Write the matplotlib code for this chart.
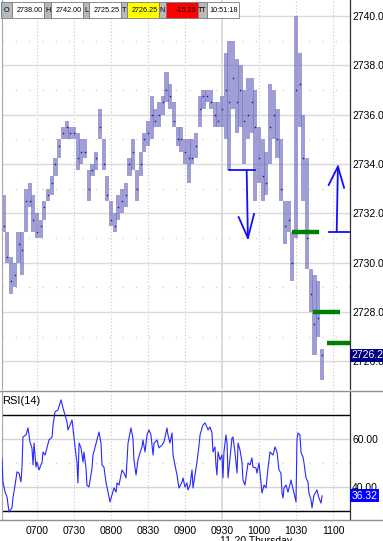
import matplotlib
matplotlib.use('Agg')
import matplotlib.pyplot as plt
import matplotlib.transforms as mtransforms
from matplotlib import font_manager
from matplotlib.patches import Rectangle

# ---------------------------------------------------------------
#   D A T A
# ---------------------------------------------------------------
# 3-minute bars, first bar at 06:33 (minutes counted from 07:00)
bar_first = -27
bar_step = 3
bar_high = [2732.75, 2731.25, 2730.25, 2730.0, 2731.25, 2731.25, 2733.0, 2733.25, 2732.75, 2732.0,
            2731.75, 2732.5, 2733.0, 2733.5, 2734.25, 2735.0, 2735.5, 2735.75, 2735.5, 2735.5,
            2735.25, 2735.0, 2735.0, 2733.75, 2734.0, 2734.5, 2736.25, 2735.0, 2733.5, 2732.5,
            2732.0, 2732.75, 2733.0, 2733.25, 2734.25, 2735.0, 2733.75, 2734.5, 2735.25, 2735.75,
            2736.75, 2736.25, 2736.5, 2736.75, 2737.75, 2737.25, 2736.5, 2735.5, 2735.5, 2735.0,
            2735.0, 2735.0, 2735.25, 2736.75, 2737.0, 2737.0, 2737.0, 2736.5, 2736.5, 2736.75,
            2738.5, 2739.0, 2739.0, 2738.25, 2738.0, 2737.0, 2737.5, 2737.5, 2737.0, 2735.5,
            2735.0, 2734.5, 2737.25, 2737.0, 2736.25, 2735.0, 2732.5, 2732.5, 2731.25, 2740.0,
            2738.5, 2736.0, 2734.25, 2729.75, 2729.5, 2729.25, 2726.5]
bar_low = [2731.25, 2730.0, 2728.75, 2729.0, 2730.0, 2729.5, 2731.25, 2732.25, 2731.25, 2731.0,
           2731.0, 2731.75, 2732.5, 2732.75, 2733.5, 2734.25, 2735.0, 2735.0, 2735.0, 2735.0,
           2733.75, 2734.0, 2734.25, 2732.5, 2733.5, 2733.75, 2735.0, 2733.75, 2732.5, 2731.5,
           2731.25, 2731.75, 2732.0, 2732.25, 2733.5, 2733.75, 2732.5, 2733.5, 2734.5, 2734.75,
           2735.0, 2735.5, 2735.5, 2736.0, 2736.5, 2736.25, 2735.5, 2734.75, 2734.5, 2734.0,
           2733.25, 2734.0, 2734.25, 2735.5, 2736.25, 2736.5, 2736.25, 2735.5, 2735.5, 2735.5,
           2735.0, 2733.75, 2736.25, 2735.25, 2735.5, 2734.0, 2735.0, 2735.25, 2732.5, 2733.25,
           2732.5, 2732.75, 2734.0, 2735.0, 2734.25, 2732.5, 2730.75, 2731.25, 2729.25, 2731.0,
           2735.5, 2732.5, 2729.75, 2728.0, 2726.25, 2727.0, 2725.25]
bar_close = [2731.5, 2730.25, 2729.25, 2729.5, 2730.75, 2730.5, 2732.5, 2732.5, 2731.75, 2731.25,
             2731.5, 2732.25, 2732.75, 2733.25, 2734.0, 2734.75, 2735.25, 2735.5, 2735.25, 2735.25,
             2734.25, 2734.5, 2734.5, 2733.0, 2733.75, 2734.25, 2735.5, 2734.0, 2732.75, 2731.75,
             2731.5, 2732.25, 2732.5, 2732.75, 2734.0, 2734.5, 2733.0, 2734.0, 2735.0, 2735.25,
             2736.0, 2735.75, 2736.0, 2736.5, 2737.0, 2736.75, 2735.75, 2735.0, 2735.0, 2734.5,
             2734.25, 2734.25, 2734.75, 2736.25, 2736.75, 2736.75, 2736.5, 2736.0, 2735.75, 2736.25,
             2737.0, 2736.5, 2737.5, 2736.5, 2737.0, 2735.75, 2736.0, 2736.5, 2735.5, 2734.25,
             2733.5, 2733.25, 2735.5, 2736.0, 2735.0, 2733.0, 2731.5, 2731.75, 2730.0, 2737.0,
             2737.25, 2734.25, 2731.0, 2728.75, 2727.5, 2727.75, 2726.25]

# RSI(14) trace: minutes from 07:00 and value
rsi_min = [-28.4, -27.6, -25.9, -24.3, -22.7, -20.3, -19.5, -17.8, -16.2, -14.6, -13.0, -12.2, -11.4,
           -8.9, -7.3, -5.7, -4.1, -3.2, -2.4, -0.8, 0.0, 1.6, 4.1, 4.9, 6.5, 8.1, 9.7, 12.2, 13.0,
           14.6, 17.0, 19.5, 21.1, 22.7, 24.3, 25.1, 26.8, 28.4, 30.0, 31.6, 32.4, 33.2, 34.1, 35.7,
           37.3, 38.1, 39.7, 40.5, 42.2, 44.6, 45.4, 48.6, 50.3, 51.9, 52.7, 54.3, 55.9, 57.6, 59.2,
           60.8, 62.4, 64.1, 64.9, 66.5, 68.9, 70.5, 72.2, 73.8, 76.2, 77.8, 78.6, 80.3, 81.9, 83.5,
           85.1, 85.9, 87.6, 89.2, 90.8, 92.4, 94.1, 94.9, 97.3, 98.9, 101.4, 103.0, 105.4, 106.2,
           107.8, 109.5, 110.3, 111.9, 113.5, 115.1, 117.6, 118.4, 120.0, 121.6, 122.4, 124.1, 125.7,
           126.5, 128.1, 129.7, 131.4, 132.2, 133.8, 134.6, 136.2, 137.8, 138.7, 140.3, 141.9, 142.7,
           144.3, 145.1, 145.9, 146.8, 148.4, 150.0, 150.8, 151.6, 153.2, 154.1, 154.9, 156.5, 158.1,
           158.9, 160.5, 162.2, 163.0, 164.6, 166.2, 167.0, 168.6, 170.3, 171.1, 172.7, 174.3, 175.1,
           177.6, 178.4, 180.0, 181.6, 182.4, 184.1, 185.7, 187.3, 188.9, 191.4, 193.0, 194.6, 196.2,
           197.8, 198.7, 199.5, 200.3, 201.9, 203.5, 206.0, 206.8, 208.4, 210.0, 210.8, 211.6, 213.2,
           214.1, 215.7, 216.5, 218.1, 219.7, 220.5, 222.2, 223.0, 224.6, 226.2, 227.0, 228.6, 230.3,
           231.1]
rsi_val = [52.1, 42.1, 37.9, 35.8, 29.6, 31.3, 35.4, 40.8, 46.3, 45.8, 42.1, 47.9, 60.8,
           61.7, 64.6, 58.8, 56.3, 49.2, 58.3, 48.3, 50.4, 47.1, 50.4, 54.6, 53.3, 56.3, 59.6, 60.8, 65.8,
           71.3, 72.1, 76.3, 72.9, 70.0, 67.1, 63.8, 65.8, 67.9, 60.4, 53.3, 50.4, 41.7, 58.3, 56.3,
           50.4, 54.6, 47.9, 40.8, 40.0, 47.9, 53.3, 59.6, 62.9, 58.3, 49.2, 48.3, 42.1, 37.9, 33.8,
           36.7, 39.6, 37.9, 41.7, 40.8, 47.1, 45.8, 43.8, 58.3, 64.6, 60.4, 51.3, 45.0, 51.3, 54.2,
           56.7, 59.6, 54.6, 61.7, 63.8, 61.7, 53.3, 58.3, 59.6, 56.3, 57.5, 58.8, 64.6, 61.7,
           58.3, 62.5, 53.3, 49.2, 45.0, 39.6, 42.1, 43.8, 40.0, 41.7, 38.8, 40.8, 47.1,
           39.6, 45.0, 50.4, 57.5, 61.7, 64.6, 65.8, 66.7, 65.0, 63.8, 65.0, 62.5, 54.6,
           56.7, 49.2, 45.0, 54.6, 51.3, 53.3, 43.8, 54.6, 61.7, 58.3, 43.8, 52.1, 60.4,
           60.8, 54.6, 45.8, 58.3, 55.4, 50.4, 42.9, 40.8, 47.1, 50.0, 49.2, 52.1, 48.3,
           47.9, 45.8, 50.0, 42.1, 37.5, 40.8, 39.6, 47.9, 54.6, 53.3, 56.7, 54.6, 47.1,
           45.8, 37.5, 35.4, 39.6, 40.8, 37.9, 42.9, 40.8, 37.5, 33.8, 59.6, 62.5, 61.7,
           54.2, 52.5, 50.0, 43.8, 42.1, 37.5, 34.6, 31.3, 36.7, 37.9, 38.8, 35.4, 33.3,
           36.32]

# hand drawn levels (green) : price, from, to
level_price = [2731.25, 2728.0, 2726.75]
level_from = ['10:27', '10:44', '10:55']
level_to = ['10:49', '11:06', '11:15']

# hand drawn arrows: level line, direction
arrow_level = [2733.75, 2731.25]
arrow_tip = [2731.0, 2733.9]
arrow_from = ['09:36', '10:57']
arrow_to = ['09:57', '11:14']
arrow_mid = ['09:50', '11:03']

# quote header
hdr_labels = ['O', 'H', 'L', 'T', 'N', 'TT']
hdr_values = ['2738.00', '2742.00', '2725.25', '2726.25', '-15.25', '10:51:18']
hdr_colors = ['white', 'white', 'white', '#ffff00', '#ff0000', 'white']

time_labels = ['0700', '0730', '0800', '0830', '0900', '0930', '1000', '1030', '1100']
session_open = '0930'
date_text = '11-20 Thursday'

price_ticks = [2726, 2728, 2730, 2732, 2734, 2736, 2738, 2740]
rsi_ticks = [40, 60]


def to_min(s):
    s = s.replace(':', '')
    return int(s[:2]) * 60 + int(s[2:]) - 420


# ---------------------------------------------------------------
#   P L O T
# ---------------------------------------------------------------
names = {f.name for f in font_manager.fontManager.ttflist}
ui_font = 'Liberation Sans Narrow' if 'Liberation Sans Narrow' in names else 'Liberation Sans'
plt.rcParams['font.family'] = [ui_font, 'DejaVu Sans']

W, H = 383, 541
fig = plt.figure(figsize=(W / 100, H / 100), dpi=100)
fig.patch.set_facecolor('white')

def px_box(x0, y0, x1, y1):
    return [x0 / W, 1 - y1 / H, (x1 - x0) / W, (y1 - y0) / H]

ax = fig.add_axes(px_box(2, 0, 350, 389))
ax2 = fig.add_axes(px_box(2, 392, 350, 519))

x_lo = (2 - 37) / 1.2333
x_hi = (350 - 37) / 1.2333
ax.set_xlim(x_lo, x_hi)
ax2.set_xlim(x_lo, x_hi)
ax.set_ylim(2724.88, 2740.65)
ax2.set_ylim(26.67, 79.58)

tick_pos = [to_min(t) for t in time_labels]

# grid
for a in (ax, ax2):
    for t, p in zip(time_labels, tick_pos):
        if t == session_open:
            a.axvline(p, color='#d4d4d4', lw=1.2, zorder=0)
        else:
            a.axvline(p, color='#c4c4c4', lw=0.8, ls=(0, (1, 2)), zorder=0)
for v in price_ticks:
    ax.axhline(v, color='#dadada', lw=1, zorder=0)
    ax.axhline(v + 1, color='#c4c4c4', lw=0.8, ls=(0, (1, 11)), zorder=0)

# price bars
bar_x = [bar_first + bar_step * i for i in range(len(bar_high))]
ax.bar(bar_x, [h - l for h, l in zip(bar_high, bar_low)], bottom=bar_low, width=3.3,
       color='#7676c4', alpha=0.7, linewidth=0, zorder=2)
ax.plot(bar_x, bar_close, ls='none', marker='s', ms=1.0, mew=0, color='#14148c', zorder=3)

# green levels
for p, a0, a1 in zip(level_price, level_from, level_to):
    ax.plot([to_min(a0), to_min(a1)], [p, p], color='#008000', lw=3.2,
            solid_capstyle='butt', zorder=4, clip_on=True)

# blue arrows
for lv, tip, a0, a1, am in zip(arrow_level, arrow_tip, arrow_from, arrow_to, arrow_mid):
    m0, m1, mm = to_min(a0), to_min(a1), to_min(am)
    ax.plot([m0, m1], [lv, lv], color='#1010ff', lw=1.3, zorder=5)
    ax.plot([mm, mm + 1], [lv, tip], color='#1010ff', lw=1.3, zorder=5)
    arm = 0.75 if tip > lv else -0.85
    ax.plot([mm - 6.5, mm + 1, mm + 6], [tip - arm, tip, tip - arm * 1.15],
            color='#1010ff', lw=1.3, zorder=5)

# RSI pane
ax2.axhline(70, color='black', lw=1, zorder=1)
ax2.axhline(30, color='black', lw=1, zorder=1)
for v in rsi_ticks:
    ax2.axhline(v, color='#d4d4d4', lw=1, zorder=0)
ax2.axhline(50, color='#c4c4c4', lw=0.8, ls=(0, (1, 11)), zorder=0)
ax2.plot(rsi_min, rsi_val, color='#2828ff', lw=0.8, zorder=3)
ax2.text(0.0, 0.97, 'RSI(14)', transform=ax2.transAxes, ha='left', va='top',
         fontsize=8, color='black')

# axes cosmetics
for a in (ax, ax2):
    a.set_facecolor('white')
    a.spines['top'].set_visible(False)
    a.spines['bottom'].set_visible(False)
    a.spines['left'].set_color('#a8a8a8')
    a.spines['right'].set_color('#303030')
    a.spines['right'].set_linewidth(0.9)
    a.yaxis.tick_right()
    a.tick_params(axis='y', length=0, pad=1.5, labelsize=7.5, labelcolor='black')

ax.set_yticks(price_ticks)
ax.set_yticklabels(['%.2f' % v for v in price_ticks])
ax.set_xticks([])
ax2.set_yticks(rsi_ticks)
ax2.set_yticklabels(['%.2f' % v for v in rsi_ticks])
ax2.set_xticks(tick_pos)
ax2.set_xticklabels(time_labels)
ax2.tick_params(axis='x', length=0, pad=5, labelsize=7.5)

# last value boxes
tr = mtransforms.blended_transform_factory(ax.transAxes, ax.transData)
ax.text(1.005, bar_close[-1], '%.2f' % bar_close[-1], transform=tr, ha='left', va='center',
        fontsize=7.5, color='white', zorder=10, clip_on=False,
        bbox=dict(boxstyle='square,pad=0.15', fc='#000080', ec='none'))
tr2 = mtransforms.blended_transform_factory(ax2.transAxes, ax2.transData)
ax2.text(1.005, rsi_val[-1], '%.2f' % rsi_val[-1], transform=tr2, ha='left', va='center',
         fontsize=7.5, color='white', zorder=10, clip_on=False,
         bbox=dict(boxstyle='square,pad=0.15', fc='#0000ff', ec='none'))

# overlay in pixel coordinates: separators, header
ov = fig.add_axes([0, 0, 1, 1], zorder=20)
ov.set_xlim(0, W)
ov.set_ylim(H, 0)
ov.axis('off')
ov.plot([0, W], [390.5, 390.5], color='#909090', lw=1)
ov.plot([0, W], [519.5, 519.5], color='#909090', lw=1)

label_w = [11, 7, 6, 6, 7, 9]
value_w = 32
x = 1
for lab, lw_, val, col in zip(hdr_labels, label_w, hdr_values, hdr_colors):
    ov.add_patch(Rectangle((x, 2), lw_, 16, fc='#b9b9b9', ec='#7a7a7a', lw=0.6))
    ov.text(x + lw_ / 2, 10.5, lab, ha='center', va='center', fontsize=5.2)
    x += lw_
    ov.add_patch(Rectangle((x, 2), value_w, 16, fc=col, ec='#7a7a7a', lw=0.6))
    ov.text(x + value_w - 1.5, 10.5, val, ha='right', va='center', fontsize=5.2)
    x += value_w
ov.add_patch(Rectangle((1.5, 3), 2.5, 14, fc='#9ab4d6', ec='none'))

fig.text(256 / W, 1 - 536.5 / H, date_text, ha='center', va='top', fontsize=7.5)

fig.savefig('out.png', dpi=100)
